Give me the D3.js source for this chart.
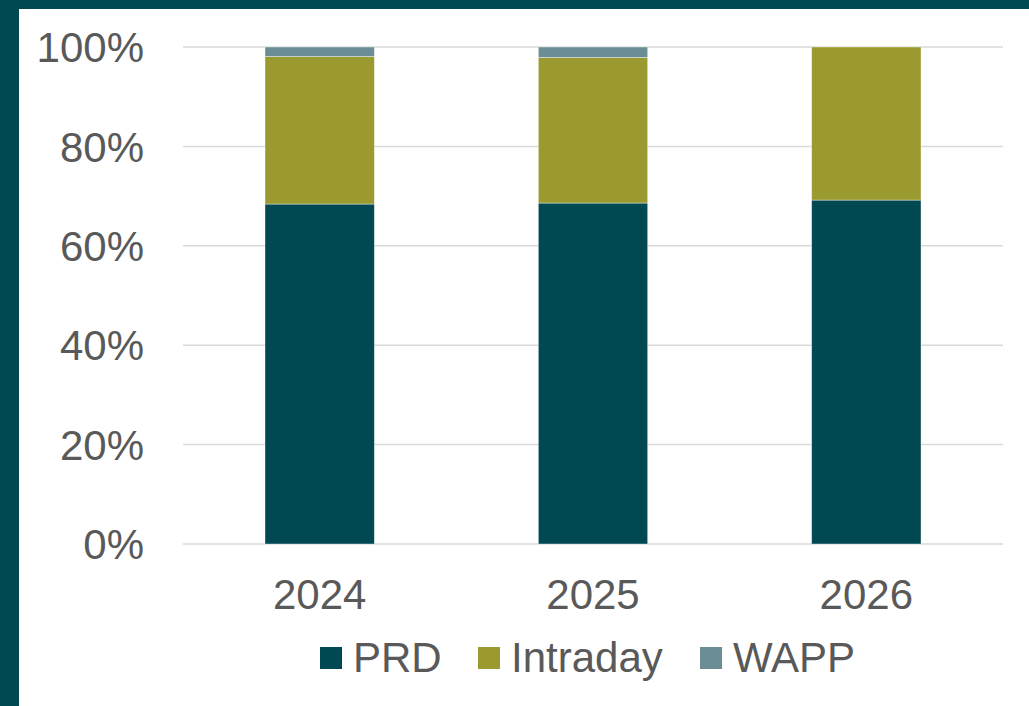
<!DOCTYPE html>
<html><head><meta charset="utf-8">
<script src="https://cdn.jsdelivr.net/npm/d3@7"></script>
<style>html,body{margin:0;padding:0;background:#fff;}svg{display:block;}</style>
</head><body>
<svg id="c" width="1029" height="706"></svg>
<script>
const categories = ["2024", "2025", "2026"];
const seriesNames = ["PRD", "Intraday", "WAPP"];
const prd = [0.684, 0.686, 0.692];
const intraday = [0.297, 0.293, 0.308];
const wapp = [0.019, 0.021, 0.0];
const yTicks = [0, 0.2, 0.4, 0.6, 0.8, 1.0];
const colors = ["#004852", "#9a9a30", "#6b8e94"];

const svg = d3.select("#c");
const font = "'Liberation Sans', Arial, sans-serif";
const textColor = "#595959";
const fs = 42;

// frame
svg.append("rect").attr("x",0).attr("y",0).attr("width",1029).attr("height",706).attr("fill","#004852");
svg.append("rect").attr("x",19).attr("y",9).attr("width",1010).attr("height",697).attr("fill","#fff");

const pLeft = 183, pRight = 1003, pTop = 47, pBottom = 544;
const x = d3.scaleBand().domain(categories).range([pLeft, pRight]).paddingInner(0.6).paddingOuter(0.3);
const y = d3.scaleLinear().domain([0,1]).range([pBottom, pTop]);

// gridlines
svg.append("g").selectAll("line").data(yTicks).join("line")
  .attr("x1", pLeft).attr("x2", pRight)
  .attr("y1", d=>y(d)).attr("y2", d=>y(d))
  .attr("stroke", "#d9d9d9").attr("stroke-width", 1.5);

const table = categories.map((c,i)=>({cat:c, PRD:prd[i], Intraday:intraday[i], WAPP:wapp[i]}));
const stack = d3.stack().keys(seriesNames)(table);

svg.append("g").selectAll("g").data(stack).join("g")
  .attr("fill", (d,i)=>colors[i])
  .selectAll("rect").data(d=>d).join("rect")
  .attr("x", d=>x(d.data.cat))
  .attr("width", x.bandwidth())
  .attr("y", d=>y(d[1]))
  .attr("height", d=>Math.max(0, y(d[0])-y(d[1])))
  .attr("stroke", "#fff").attr("stroke-opacity", 0.5).attr("stroke-width", 0.75);

// y axis labels
const yAxis = d3.axisLeft(y).tickValues(yTicks).tickFormat(d3.format(".0%")).tickSize(0).tickPadding(0);
const ga = svg.append("g").attr("transform", `translate(144,0)`).call(yAxis);
ga.select(".domain").remove();
ga.selectAll("text").attr("font-family", font).attr("font-size", fs).attr("fill", textColor).attr("dy","0.35em");

// x axis labels
const xAxis = d3.axisBottom(x).tickSize(0).tickPadding(0);
const gx = svg.append("g").attr("transform", `translate(0,${pBottom})`).call(xAxis);
gx.select(".domain").remove();
gx.selectAll("text").attr("font-family", font).attr("font-size", fs).attr("fill", textColor).attr("dy", null).attr("y", 65);

// legend
const legendX = [320, 478, 700];
const lg = svg.append("g");
seriesNames.forEach((n,i)=>{
  lg.append("rect").attr("x", legendX[i]).attr("y", 647).attr("width", 22).attr("height", 22).attr("fill", colors[i]);
  lg.append("text").attr("x", legendX[i]+33).attr("y", 672).text(n)
    .attr("font-family", font).attr("font-size", fs).attr("fill", textColor);
});
</script>
</body></html>
